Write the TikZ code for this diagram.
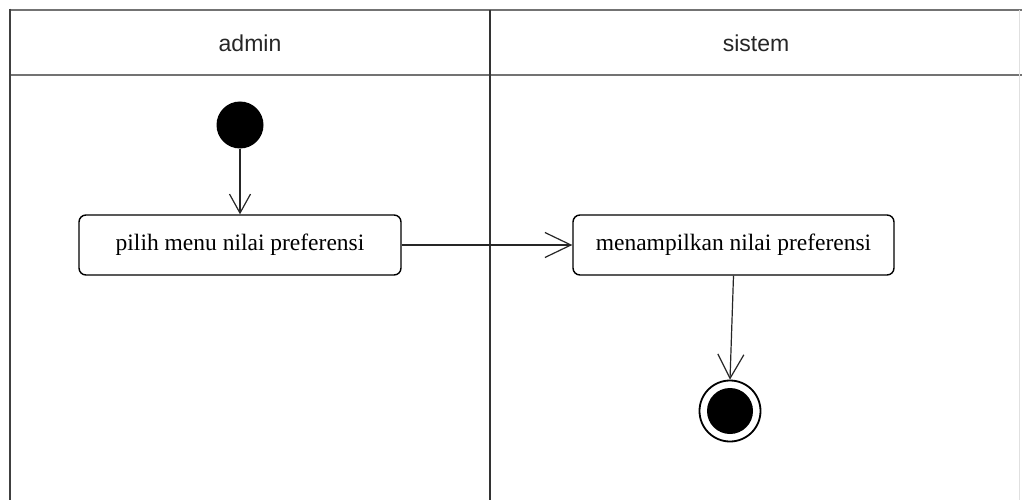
\documentclass[tikz,border=0pt]{standalone}
\usepackage{fontspec}
\setmainfont{Liberation Serif}
\newfontfamily\lanefont{Liberation Sans}
\usetikzlibrary{arrows.meta}
\tikzset{
  lane/.style={draw=black!55, line width=2.6pt},
  lanesep/.style={draw=black!80, line width=2pt},
  action/.style={draw=black, line width=1.4pt, rounded corners=7pt, fill=white,
    minimum height=60pt, inner sep=0pt, font=\fontsize{23.5}{26}\selectfont},
  lanetitle/.style={font=\lanefont\fontsize{23}{26}\selectfont, text=black!85},
  flow/.style={draw=black!85, line width=1.2pt},
}
\begin{document}
\begin{tikzpicture}[x=1pt,y=-1pt]
  \useasboundingbox[fill=white] (0,0) rectangle (1022,500);

  % swimlane frame
  \draw[lane] (10,10) -- (1022,10);
  \draw[lane] (10,75) -- (1022,75);
  \draw[draw=black!75, line width=2.8pt] (10,8.7) -- (10,500);
  \draw[draw=black!12, line width=1pt] (1019,10) -- (1019,500);
  \draw[lanesep] (489.5,10) -- (489.5,500);

  \node[lanetitle] (laneA) at (250,43) {admin};
  \node[lanetitle] (laneB) at (756,43) {sistem};

  % activity flow
  \node[circle, fill=black, minimum size=47pt, inner sep=0pt] (start) at (240,125) {};
  \node[action, minimum width=322pt] (pilih) at (240,245) {pilih menu nilai preferensi};
  \node[action, minimum width=321pt] (tampil) at (733.5,245) {menampilkan nilai preferensi};
  \node[circle, draw=black, line width=1.8pt, minimum size=61pt, inner sep=0pt] (final) at (730,411) {};
  \fill[black] (final.center) circle (23);

  \draw[flow, -{Straight Barb[length=19pt, width=21pt, line width=1.2pt]}] (start) -- (pilih);
  \draw[flow, -{Straight Barb[length=26pt, width=25pt, line width=1.2pt]}] (pilih) -- (tampil);
  \draw[flow, -{Straight Barb[length=24pt, width=26pt, line width=1.2pt]}] (tampil.south) -- (final.north);
\end{tikzpicture}
\end{document}
